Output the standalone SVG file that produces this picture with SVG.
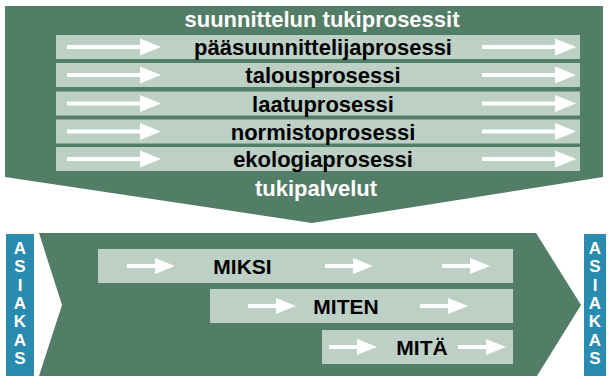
<svg xmlns="http://www.w3.org/2000/svg" width="608" height="377" viewBox="0 0 608 377">
<defs>
<style>
.green{fill:#527d66}
.strip{fill:#bdd0c6}
.blue{fill:#2a8bb0}
.arrow{fill:#ffffff}
.wt{font-family:"Liberation Sans",Arial,sans-serif;font-weight:bold;font-size:22px;fill:#ffffff;text-anchor:middle}
.bt{font-family:"Liberation Sans",Arial,sans-serif;font-weight:bold;font-size:22px;fill:#000000;text-anchor:middle}
.mt{font-family:"Liberation Sans",Arial,sans-serif;font-weight:bold;font-size:21px;fill:#000000;text-anchor:middle}
.lt{font-family:"Liberation Sans",Arial,sans-serif;font-weight:bold;font-size:17px;fill:#ffffff;text-anchor:middle}
</style>
<path id="longArrow" d="M0,-2 H73 V-8.5 L94,0 L73,8.5 V2 H0 Z"/>
<path id="shortArrow" d="M0,-2 H28 V-8 L48,0 L28,8 V2 H0 Z"/>
</defs>
<rect width="608" height="377" fill="#ffffff"/>

<g id="tukiprosessit">
<polygon class="green" points="5,6 603,6 603,177 312,223 5,177"/>
<text class="wt" x="322" y="27">suunnittelun tukiprosessit</text>
<text class="wt" x="316" y="196">tukipalvelut</text>
</g>

<g id="paasuunnittelijaprosessi">
<rect class="strip" x="56" y="35" width="524" height="24"/>
<text class="bt" x="323" y="55">pääsuunnittelijaprosessi</text>
</g>
<g id="talousprosessi">
<rect class="strip" x="56" y="63" width="524" height="24"/>
<text class="bt" x="323" y="83">talousprosessi</text>
</g>
<g id="laatuprosessi">
<rect class="strip" x="56" y="91.5" width="524" height="24"/>
<text class="bt" x="323" y="111.5">laatuprosessi</text>
</g>
<g id="normistoprosessi">
<rect class="strip" x="56" y="119.5" width="524" height="24"/>
<text class="bt" x="323" y="139.5">normistoprosessi</text>
</g>
<g id="ekologiaprosessi">
<rect class="strip" x="56" y="147" width="524" height="24"/>
<text class="bt" x="323" y="167">ekologiaprosessi</text>
</g>

<g id="prosessi">
<polygon class="green" points="39,233 536,233 581,305 537,376 39,376 62,305"/>
</g>

<g id="miksi">
<rect class="strip" x="98" y="249" width="415" height="34"/>
<text class="mt" x="242.5" y="273.5">MIKSI</text>
</g>
<g id="miten">
<rect class="strip" x="210" y="289" width="303" height="34"/>
<text class="mt" x="346" y="313.5">MITEN</text>
</g>
<g id="mita">
<rect class="strip" x="322" y="330" width="191" height="34"/>
<text class="mt" x="422" y="354.5">MITÄ</text>
</g>

<g id="asiakas-vasen">
<rect class="blue" x="6" y="234" width="28" height="142"/>
<text class="lt" x="20" y="254">A</text>
<text class="lt" x="20" y="272.3">S</text>
<text class="lt" x="20" y="290.7">I</text>
<text class="lt" x="20" y="309">A</text>
<text class="lt" x="20" y="327.3">K</text>
<text class="lt" x="20" y="345.7">A</text>
<text class="lt" x="20" y="364">S</text>
</g>
<g id="asiakas-oikea">
<rect class="blue" x="584" y="234" width="22" height="142"/>
<text class="lt" x="595" y="254">A</text>
<text class="lt" x="595" y="272.3">S</text>
<text class="lt" x="595" y="290.7">I</text>
<text class="lt" x="595" y="309">A</text>
<text class="lt" x="595" y="327.3">K</text>
<text class="lt" x="595" y="345.7">A</text>
<text class="lt" x="595" y="364">S</text>
</g>

<g id="connectors" class="arrow">
<use href="#longArrow" x="67" y="47"/>
<use href="#longArrow" x="482" y="47"/>
<use href="#longArrow" x="67" y="75"/>
<use href="#longArrow" x="482" y="75"/>
<use href="#longArrow" x="67" y="103.5"/>
<use href="#longArrow" x="482" y="103.5"/>
<use href="#longArrow" x="67" y="131.5"/>
<use href="#longArrow" x="482" y="131.5"/>
<use href="#longArrow" x="67" y="159"/>
<use href="#longArrow" x="482" y="159"/>
<use href="#shortArrow" x="127" y="266"/>
<use href="#shortArrow" x="325" y="266"/>
<use href="#shortArrow" x="442" y="266"/>
<use href="#shortArrow" x="248" y="306"/>
<use href="#shortArrow" x="420" y="306"/>
<use href="#shortArrow" x="329" y="347"/>
<use href="#shortArrow" x="458" y="347"/>
</g>
</svg>
